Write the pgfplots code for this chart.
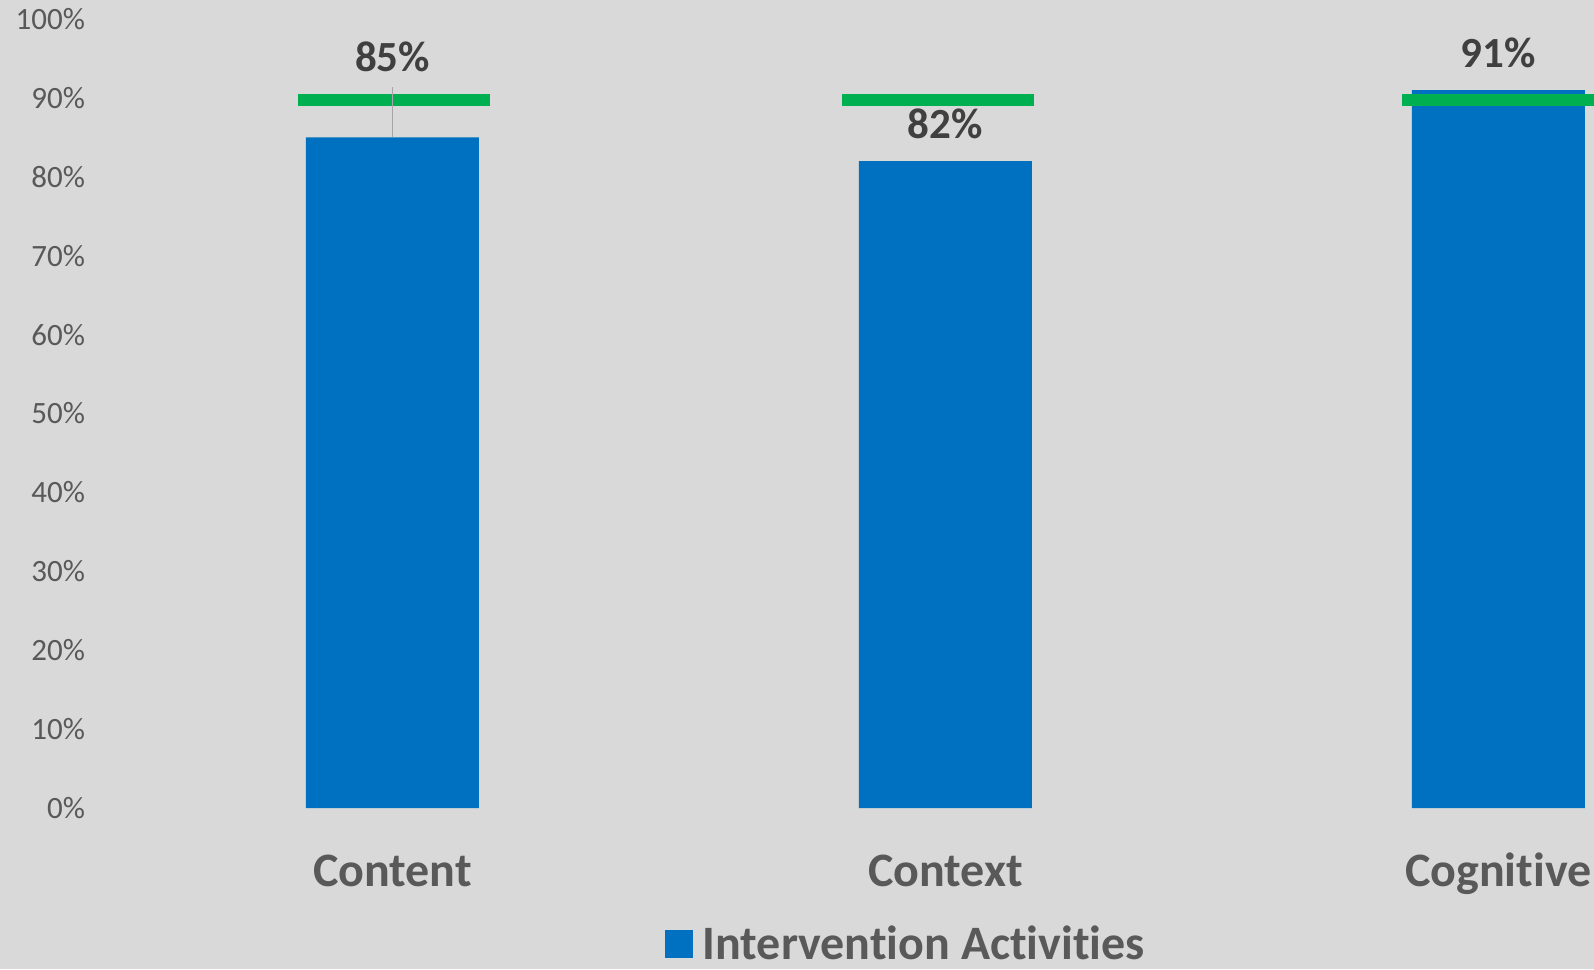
\documentclass[border=0pt]{standalone}
\usepackage{fontspec}
\setmainfont{Carlito}[Ligatures=NoCommon]
\usepackage{pgfplots}
\pgfplotsset{compat=1.18}
\definecolor{bgcol}{HTML}{D9D9D9}
\definecolor{barblue}{HTML}{0070C0}
\definecolor{tgtgreen}{HTML}{00B050}
\definecolor{txtgray}{HTML}{595959}
\definecolor{lblgray}{HTML}{404040}
\definecolor{leader}{HTML}{A6A6A6}
\begin{document}
\begin{tikzpicture}
\path[use as bounding box] (-58pt,-80.5pt) rectangle (739pt,404pt);
\fill[bgcol] (-58pt,-80.5pt) rectangle (739pt,404pt);
\begin{axis}[
  at={(0,0)}, anchor=south west,
  scale only axis, width=739pt, height=394.5pt,
  xmin=-0.5, xmax=2.173, ymin=0, ymax=100,
  axis line style={draw=none}, tick style={draw=none},
  xtick={0,1,2}, xticklabels={Content,Context,Cognitive},
  ytick={0,10,...,100},
  yticklabel={\pgfmathprintnumber{\tick}\%},
  /pgf/number format/assume math mode=true,
  yticklabel style={font=\fontsize{15.5}{18}\selectfont, text=txtgray, anchor=east, xshift=-12pt},
  xticklabel style={font=\fontsize{24}{28}\selectfont\bfseries, text=txtgray, anchor=base, yshift=-39pt},
  legend style={at={(0.535,-0.172)}, anchor=center, draw=none, fill=none,
    font=\fontsize{24}{28}\selectfont\bfseries, text=txtgray},
  legend image code/.code={\fill[#1] (0pt,-7pt) rectangle (14pt,7pt);},
  legend cell align=left,
  legend style={/tikz/every odd column/.append style={column sep=3pt}},
]
\addplot[ybar, bar width=86.5pt, fill=barblue, draw=none] coordinates {(0,85) (1,82) (2,91)};
\addlegendentry{Intervention Activities}
\addplot[forget plot, tgtgreen, line width=6pt] coordinates {(-0.171,89.7) (0.177,89.7)};
\addplot[forget plot, tgtgreen, line width=6pt] coordinates {(0.8137,89.7) (1.1609,89.7)};
\addplot[forget plot, tgtgreen, line width=6pt] coordinates {(1.826,89.7) (2.174,89.7)};
\addplot[forget plot, leader, line width=0.6pt] coordinates {(0,85) (0,91.4)};
\addplot[forget plot, only marks, mark=none, nodes near coords, point meta=explicit symbolic,
  every node near coord/.style={anchor=center, font=\fontsize{21.5}{25}\selectfont\bfseries, text=lblgray}]
  coordinates {(0,95.2)[85\%] (1,86.7)[82\%] (2,95.7)[91\%]};
\end{axis}
\end{tikzpicture}
\end{document}
